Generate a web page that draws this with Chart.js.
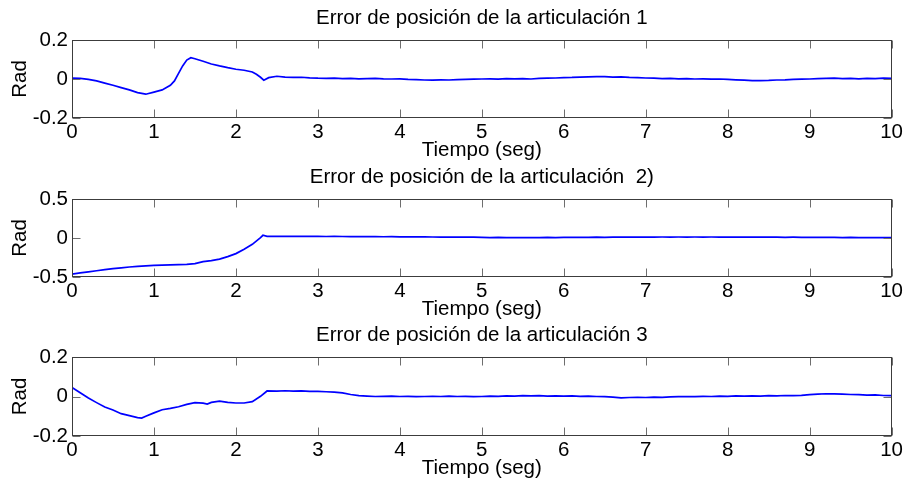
<!DOCTYPE html>
<html>
<head>
<meta charset="utf-8">
<title>Error de posición</title>
<script src="https://cdn.jsdelivr.net/npm/chart.js@4.4.0/dist/chart.umd.min.js"></script>
<style>
    body { margin: 0; background: #fff; width: 905px; height: 485px; position: relative; overflow: hidden; }
    canvas { position: absolute; left: 0; }
</style>
</head>
<body>
<canvas id="art1" width="905" height="166" style="top:0px"></canvas>
<canvas id="art2" width="905" height="166" style="top:159px"></canvas>
<canvas id="art3" width="905" height="167" style="top:317px"></canvas>
<script>
// Titulos de cada subgrafica
const titulos = [
    'Error de posición de la articulación 1',
    'Error de posición de la articulación  2)',
    'Error de posición de la articulación 3'
];

// Marcas de los ejes
const ticksX = [0, 1, 2, 3, 4, 5, 6, 7, 8, 9, 10];
const ticksY1 = [-0.2, 0, 0.2];
const ticksY2 = [-0.5, 0, 0.5];
const ticksY3 = [-0.2, 0, 0.2];

// Tramo estable (2.7 s a 10 s), comun a las tres articulaciones
const tiempoCola = [
    2.7, 2.8, 2.9, 3.0, 3.1, 3.2, 3.3, 3.4, 3.5, 3.6,
    3.7, 3.8, 3.9, 4.0, 4.1, 4.2, 4.3, 4.4, 4.5, 4.6,
    4.7, 4.8, 4.9, 5.0, 5.1, 5.2, 5.3, 5.4, 5.5, 5.6,
    5.7, 5.8, 5.9, 6.0, 6.1, 6.2, 6.3, 6.4, 6.5, 6.6,
    6.7, 6.8, 6.9, 7.0, 7.1, 7.2, 7.3, 7.4, 7.5, 7.6,
    7.7, 7.8, 7.9, 8.0, 8.1, 8.2, 8.3, 8.4, 8.5, 8.6,
    8.7, 8.8, 8.9, 9.0, 9.1, 9.2, 9.3, 9.4, 9.5, 9.6,
    9.7, 9.8, 9.9, 10.0
];

// Articulacion 1 (rad)
const tiempoInicio1 = [0, 0.1, 0.2, 0.3, 0.4, 0.5, 0.6, 0.7, 0.8, 0.9, 1.0, 1.1, 1.2, 1.25, 1.3, 1.35,
    1.4, 1.45, 1.5, 1.6, 1.7, 1.8, 1.9, 2.0, 2.1, 2.2, 2.25, 2.3, 2.34, 2.4, 2.5, 2.6];
const errorInicio1 = [0.005, 0.003, -0.002, -0.01, -0.021, -0.032, -0.044, -0.056, -0.07, -0.078, -0.067,
    -0.056, -0.032, -0.01, 0.029, 0.067, 0.097, 0.109, 0.104, 0.091, 0.077, 0.067, 0.058, 0.05, 0.045,
    0.036, 0.024, 0.009, -0.006, 0.007, 0.014, 0.01];
const errorCola1 = [
    0.008, 0.009, 0.006, 0.004, 0.003, 0.004, 0.002, 0.003, 0.001, 0.002,
    0.003, 0.001, 0.0, 0.001, -0.002, -0.003, -0.005, -0.006, -0.004, -0.005,
    -0.003, -0.002, -0.001, 0.0, 0.001, -0.001, 0.002, 0.001, 0.002, 0.0,
    0.003, 0.004, 0.005, 0.007, 0.008, 0.01, 0.011, 0.012, 0.012, 0.01,
    0.011, 0.008, 0.007, 0.005, 0.004, 0.002, 0.003, 0.001, 0.002, 0.0,
    0.001, -0.001, 0.0, -0.002, -0.004, -0.006, -0.008, -0.008, -0.007, -0.005,
    -0.004, -0.002, -0.001, 0.0, 0.002, 0.003, 0.004, 0.002, 0.003, 0.001,
    0.003, 0.002, 0.004, 0.003
];

// Articulacion 2 (rad)
const tiempoInicio2 = [0, 0.1, 0.2, 0.3, 0.4, 0.5, 0.6, 0.7, 0.8, 0.9, 1.0, 1.1, 1.2, 1.3, 1.4, 1.5,
    1.6, 1.7, 1.8, 1.9, 2.0, 2.1, 2.2, 2.3, 2.33, 2.38, 2.5, 2.6];
const errorInicio2 = [-0.462, -0.448, -0.434, -0.42, -0.406, -0.393, -0.382, -0.372, -0.364, -0.357,
    -0.352, -0.348, -0.345, -0.342, -0.338, -0.329, -0.303, -0.29, -0.27, -0.239,
    -0.2, -0.145, -0.081, 0.004, 0.035, 0.02, 0.022, 0.021];
const errorCola2 = [
    0.021, 0.02, 0.022, 0.02, 0.019, 0.021, 0.019, 0.018, 0.019, 0.017,
    0.018, 0.016, 0.017, 0.015, 0.016, 0.014, 0.015, 0.013, 0.012, 0.013,
    0.011, 0.012, 0.01, 0.008, 0.006, 0.007, 0.005, 0.006, 0.004, 0.006,
    0.005, 0.007, 0.006, 0.008, 0.007, 0.009, 0.008, 0.01, 0.009, 0.011,
    0.01, 0.011, 0.012, 0.011, 0.012, 0.013, 0.012, 0.013, 0.012, 0.013,
    0.012, 0.013, 0.012, 0.011, 0.012, 0.011, 0.01, 0.011, 0.01, 0.011,
    0.009, 0.01, 0.009, 0.008, 0.009, 0.007, 0.008, 0.006, 0.007, 0.005,
    0.006, 0.004, 0.005, 0.004
];

// Articulacion 3 (rad)
const tiempoInicio3 = [0, 0.1, 0.2, 0.3, 0.4, 0.5, 0.6, 0.7, 0.8, 0.85, 0.9, 1.0, 1.1, 1.2, 1.3, 1.4,
    1.5, 1.6, 1.65, 1.7, 1.8, 1.9, 2.0, 2.1, 2.2, 2.3, 2.38, 2.5, 2.6];
const errorInicio3 = [0.046, 0.019, -0.008, -0.031, -0.053, -0.068, -0.087, -0.097, -0.107, -0.109,
    -0.1, -0.083, -0.067, -0.06, -0.052, -0.04, -0.031, -0.034, -0.038, -0.03,
    -0.023, -0.03, -0.033, -0.033, -0.026, 0.001, 0.028, 0.027, 0.029];
const errorCola3 = [
    0.027, 0.028, 0.026, 0.026, 0.024, 0.022, 0.018, 0.01, 0.004, 0.002,
    0.0, 0.001, 0.002, 0.0, 0.001, -0.001, 0.0, 0.001, 0.0, 0.002,
    0.0, 0.001, -0.001, 0.0, 0.002, 0.001, 0.003, 0.002, 0.004, 0.003,
    0.004, 0.002, 0.003, 0.002, 0.003, 0.001, 0.002, 0.0, -0.001, -0.003,
    -0.007, -0.005, -0.004, -0.005, -0.003, -0.004, -0.002, -0.001, 0.0, -0.001,
    0.001, 0.0, 0.002, 0.001, 0.003, 0.002, 0.003, 0.002, 0.004, 0.003,
    0.005, 0.004, 0.006, 0.009, 0.012, 0.014, 0.013, 0.012, 0.01, 0.009,
    0.007, 0.008, 0.005, 0.004
];

Chart.defaults.font.family = "'Liberation Sans', Arial, Helvetica, sans-serif";
Chart.defaults.font.size = 20.5;
Chart.defaults.color = '#000';

// Caja del eje y marcas hacia dentro, al estilo de MATLAB
const marcoEjes = {
    id: 'marcoEjes',
    afterDatasetsDraw(chart) {
        const { ctx, chartArea: a, scales: { x, y } } = chart;
        const izq = Math.round(a.left) + 0.5, der = Math.round(a.right) - 0.5;
        const arr = Math.round(a.top) + 0.5, aba = Math.round(a.bottom) - 0.5;
        const largo = 8;
        ctx.save();
        ctx.lineWidth = 1;
        ctx.strokeStyle = '#6e6e6e';
        ctx.beginPath();
        x.ticks.forEach(t => {
            const px = Math.round(x.getPixelForValue(t.value)) + 0.5;
            ctx.moveTo(px, aba); ctx.lineTo(px, aba - largo);
            ctx.moveTo(px, arr); ctx.lineTo(px, arr + largo);
        });
        y.ticks.forEach(t => {
            const py = Math.round(y.getPixelForValue(t.value)) + 0.5;
            ctx.moveTo(izq, py); ctx.lineTo(izq + largo, py);
            ctx.moveTo(der, py); ctx.lineTo(der - largo, py);
        });
        ctx.stroke();
        ctx.strokeStyle = '#3c3c3c';
        ctx.strokeRect(izq, arr, der - izq, aba - arr);
        ctx.restore();
    }
};

function crearSubgrafica(id, titulo, tiempos, valores, ticksY) {
    const puntos = tiempos.map((t, i) => ({ x: t, y: valores[i] }));
    return new Chart(document.getElementById(id), {
        type: 'line',
        data: {
            datasets: [{
                data: puntos,
                borderColor: '#0000ff',
                borderWidth: 1.7,
                pointRadius: 0,
                tension: 0,
                fill: false
            }]
        },
        options: {
            responsive: false,
            animation: false,
            layout: { padding: { left: 0, right: 12, top: 0, bottom: 0 } },
            plugins: {
                legend: { display: false },
                tooltip: { enabled: false },
                title: {
                    display: true,
                    text: titulo,
                    fullSize: false,
                    color: '#000',
                    font: { size: 20.5, weight: 'normal' },
                    padding: { top: 6, bottom: 9.4 }
                }
            },
            scales: {
                x: {
                    type: 'linear',
                    min: 0,
                    max: 10,
                    grid: { display: false, drawTicks: false },
                    border: { display: false },
                    afterBuildTicks: s => { s.ticks = ticksX.map(v => ({ value: v })); },
                    afterFit: s => { s.height = 48; },
                    ticks: { padding: 2, maxRotation: 0, autoSkip: false, callback: v => String(v) },
                    title: { display: true, text: 'Tiempo (seg)', padding: { top: 0, bottom: 3 } }
                },
                y: {
                    type: 'linear',
                    min: ticksY[0],
                    max: ticksY[ticksY.length - 1],
                    grid: { display: false, drawTicks: false },
                    border: { display: false },
                    afterBuildTicks: s => { s.ticks = ticksY.map(v => ({ value: v })); },
                    afterFit: s => { s.width = 72; },
                    ticks: { padding: 4, callback: v => String(v) },
                    title: { display: true, text: 'Rad', padding: { top: 8, bottom: 0 } }
                }
            }
        },
        plugins: [marcoEjes]
    });
}

crearSubgrafica('art1', titulos[0], tiempoInicio1.concat(tiempoCola), errorInicio1.concat(errorCola1), ticksY1);
crearSubgrafica('art2', titulos[1], tiempoInicio2.concat(tiempoCola), errorInicio2.concat(errorCola2), ticksY2);
crearSubgrafica('art3', titulos[2], tiempoInicio3.concat(tiempoCola), errorInicio3.concat(errorCola3), ticksY3);
</script>
</body>
</html>
